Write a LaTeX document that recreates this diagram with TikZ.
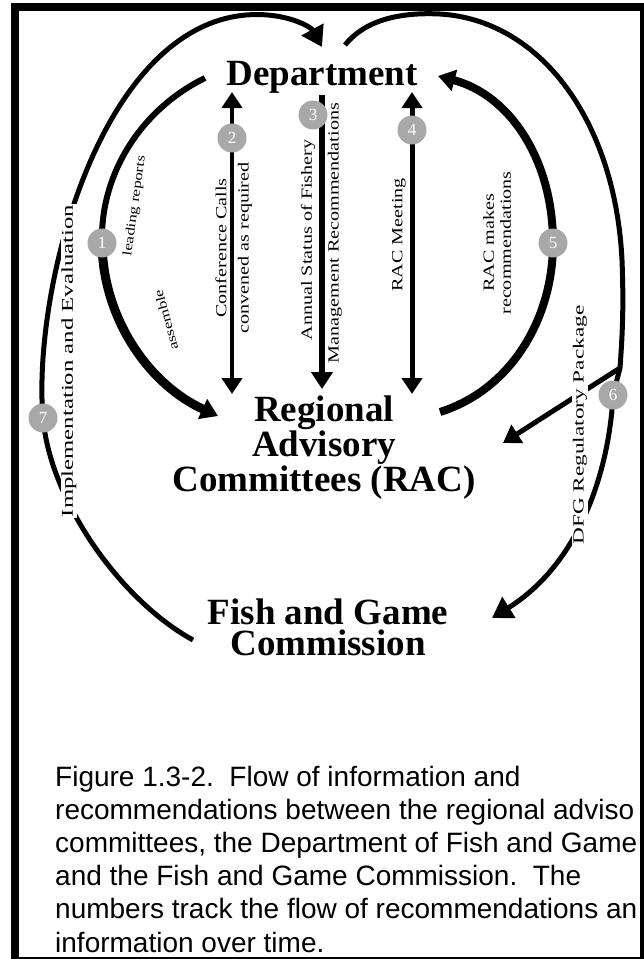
\documentclass[tikz,border=0pt]{standalone}
\usepackage{fontspec}
\usepackage{graphicx}
\setmainfont{Liberation Serif}
\newfontfamily\capfont{Liberation Sans}
\usetikzlibrary{arrows.meta}
\definecolor{numgray}{RGB}{168,168,168}
\begin{document}
\begin{tikzpicture}[x=1pt,y=-1pt,
  title/.style={font=\fontsize{37}{31}\selectfont\bfseries, align=center, inner sep=0pt},
  lbl/.style={font=\fontsize{15.5}{17}\selectfont, inner sep=1pt, fill=white},
  num/.style={circle, fill=numgray, text=white, minimum size=29pt, inner sep=0pt, font=\fontsize{17}{17}\selectfont},
  bigtip/.style={-{Triangle[length=20pt,width=24pt]}},
  midtip/.style={-{Triangle[length=17pt,width=21pt]}},
  dbltip/.style={{Triangle[length=16pt,width=20pt]}-{Triangle[length=16pt,width=20pt]}},
]
\useasboundingbox (0,0) rectangle (644,959);
\clip (0,0) rectangle (644,959);
\fill[white] (0,0) rectangle (644,959);

% main nodes
\node[title, anchor=base] (dept) at (322,85) {Department};
\node[title, anchor=north] (rac) at (324,396) {Regional\\Advisory\\Committees (RAC)};
\node[title, anchor=north] (fgc) at (328,599) {Fish and Game\\Commission};

% coordinates
\coordinate (a1s) at (205,78);
\coordinate (a1e) at (218,416);
\coordinate (a5s) at (440,412);
\coordinate (a5e) at (438,76);
\coordinate (t2) at (232,92);  \coordinate (b2) at (232,394);
\coordinate (t3) at (322,95);  \coordinate (b3) at (322,389);
\coordinate (t4) at (412,92);  \coordinate (b4) at (412,394);
\coordinate (fL) at (193,640);
\coordinate (dT) at (322,47);
\coordinate (dR) at (345,45);
\coordinate (k6) at (620,368);
\coordinate (r6) at (503,443);
\coordinate (fR) at (492,618);

% number circle positions
\coordinate (p1) at (102,243);
\coordinate (p2) at (232,138);
\coordinate (p3) at (313,115);
\coordinate (p4) at (412,130);
\coordinate (p5) at (553,243);
\coordinate (p6) at (613,395);
\coordinate (p7) at (43,418);

% arc 1
\draw[line width=6] (a1s) .. controls (140,110) and (100,175) .. (p1);
\draw[line width=9, midtip] (p1) .. controls (103,320) and (150,385) .. (a1e);
% arc 5
\draw[line width=8, midtip] (a5s) .. controls (510,390) and (553,320) .. (p5) .. controls (553,160) and (510,95) .. (a5e);
% vertical arrows
\draw[line width=4, dbltip] (t2) -- (b2);
\draw[line width=6, midtip] (t3) -- (b3);
\draw[line width=5, dbltip] (t4) -- (b4);
% outer left arc
\draw[line width=5, bigtip] (fL) .. controls (120,600) and (50,500) .. (p7) .. controls (33,300) and (90,60) .. (220,20) .. controls (270,5) and (310,25) .. (dT);
% outer right arc
\draw[line width=5] (dR) .. controls (365,20) and (400,12) .. (440,14) .. controls (540,20) and (615,120) .. (622,260) .. controls (624,310) and (622,340) .. (k6) -- (p6);
\draw[line width=5, bigtip] (p6) .. controls (610,460) and (585,560) .. (fR);
\draw[line width=5, midtip] (k6) -- (r6);

% labels
\node[lbl, rotate=90] (cc) at (221,248) {\scalebox{1.3}[1]{Conference Calls}};
\node[lbl, rotate=90] (cr) at (245,248) {\scalebox{1.3}[1]{convened as required}};
\node[lbl, rotate=90] (as) at (308,240) {\scalebox{1.3}[1]{Annual Status of Fishery}};
\node[lbl, rotate=90] (mr) at (335,233) {\scalebox{1.3}[1]{Management Recommendations}};
\node[lbl, rotate=90] (rm) at (399,235) {\scalebox{1.3}[1]{RAC Meeting}};
\node[lbl, rotate=90, align=center] (rmk) at (497,243) {\scalebox{1.3}[1]{RAC makes}\\\scalebox{1.3}[1]{recommendations}};
\node[lbl, rotate=90, font=\fontsize{16.5}{18}\selectfont] (ie) at (69,361) {\scalebox{1.5}[1]{Implementation and Evaluation}};
\node[lbl, rotate=90] (dfg) at (580,425) {\scalebox{1.5}[1]{DFG Regulatory Package}};
\node[rotate=82, inner sep=0pt, font=\fontsize{13}{14}\selectfont] (lr) at (135,206) {\scalebox{1.3}[1]{leading reports}};
\node[rotate=105, inner sep=0pt, font=\fontsize{13}{14}\selectfont] (asm) at (166,320) {\scalebox{1.3}[1]{assemble}};

% number circles
\node[num] (n1) at (p1) {1};
\node[num] (n2) at (p2) {2};
\node[num] (n3) at (p3) {3};
\node[num] (n4) at (p4) {4};
\node[num] (n5) at (p5) {5};
\node[num] (n6) at (p6) {6};
\node[num] (n7) at (p7) {7};

% caption (anchor base = baseline of last line)
\node[anchor=base west, inner sep=0pt, align=left, font=\capfont\fontsize{28}{33.2}\selectfont] (cap) at (55,952)
 {Figure 1.3-2.\ \ Flow of information and\\
  recommendations between the regional adviso\\
  committees, the Department of Fish and Game\\
  and the Fish and Game Commission.\ \ The\\
  numbers track the flow of recommendations an\\
  information over time.};

% frame
\fill[black] (11,3) rectangle (644,11);
\fill[black] (11,3) rectangle (19,959);
\fill[black] (640,3) rectangle (644,959);
\fill[black] (11,957) rectangle (644,959);
\end{tikzpicture}
\end{document}
